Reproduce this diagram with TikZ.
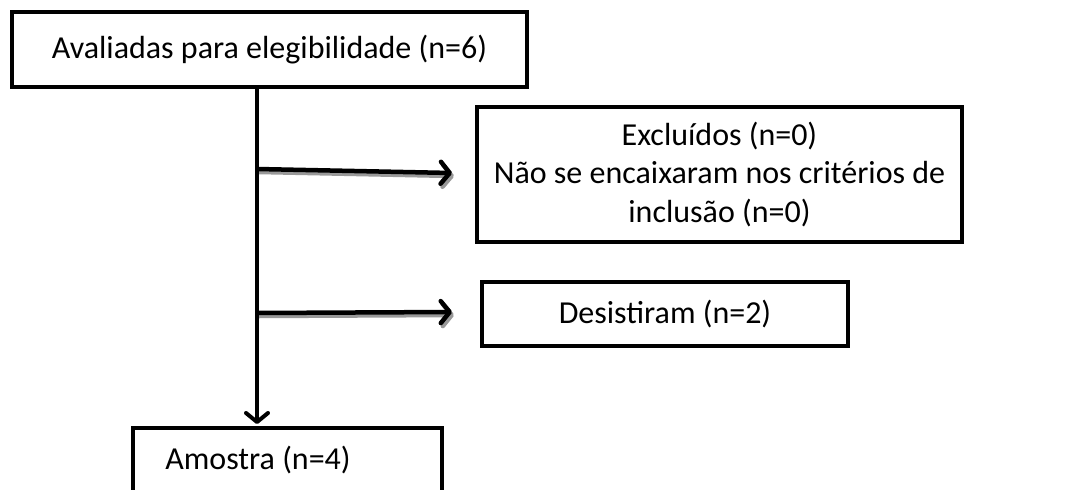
\documentclass[tikz,border=0pt]{standalone}
\usepackage{fontspec}
\setmainfont{Carlito}
\usetikzlibrary{arrows.meta,calc}
\tikzset{
  box/.style={draw=black, line width=3.5pt, fill=white, inner sep=0pt, align=center, font=\fontsize{32}{38.5}\selectfont},
  conn/.style={line width=4.5pt, black, -{Straight Barb[length=9pt,width=22pt,line width=4.5pt,line cap=round,line join=round]}},
  connshadow/.style={conn, black!40},
  trunk/.style={line width=4pt, black}
}
\begin{document}
\begin{tikzpicture}[x=1pt,y=-1pt]
\useasboundingbox (0,0) rectangle (1069,490);
\clip (0,0) rectangle (1069,490);
\node[box, minimum width=515pt, minimum height=75pt] (top) at (269.5,49.5) {Avaliadas para elegibilidade (n=6)};
\node[box, minimum width=485pt, minimum height=135pt] (excl) at (719.5,174.5) {Excluídos (n=0)\\Não se encaixaram nos critérios de\\inclusão (n=0)};
\node[box, minimum width=366pt, minimum height=64pt] (desist) at (665,314) {Desistiram (n=2)};
\node[box, minimum width=309pt, minimum height=80pt, anchor=north] (amostra) at (287.5,426) {};
\node[font=\fontsize{32}{38.5}\selectfont] (amostratext) at (258,460) {Amostra (n=4)};
\coordinate (t0) at (257,87);
\coordinate (t1) at (257,424);
\coordinate (b1) at (257,169);
\coordinate (e1) at (452,173);
\coordinate (b2) at (257,313);
\coordinate (e2) at (452,312);
\draw[connshadow] ($(b1)+(2,3)$) -- ($(e1)+(2,3)$);
\draw[connshadow] ($(b2)+(2,3)$) -- ($(e2)+(2,3)$);
\draw[trunk, -{Straight Barb[length=9pt,width=22pt,line width=4pt,line cap=round,line join=round]}] (top.south -| t0) -- (t1);
\draw[conn] (b1) -- (e1);
\draw[conn] (b2) -- (e2);
\end{tikzpicture}
\end{document}
